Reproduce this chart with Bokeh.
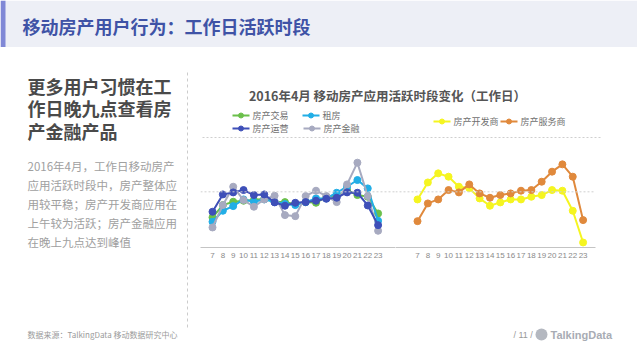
from bokeh.plotting import figure
from bokeh.layouts import column, row
from bokeh.models import Range1d, FixedTicker, Span
from bokeh.core.properties import value
from bokeh.embed import file_html
from bokeh.resources import INLINE

# ---------------- data ----------------
hours = list(range(7, 24))
hour_labels = [str(h) for h in hours]

left_names = ["房产交易", "租房", "房产运营", "房产金融"]
jiaoyi = [3.24, 4.57, 4.93, 5.04, 5.11, 5.25, 4.93, 4.89, 4.68, 4.89, 4.82, 5.47, 5.54, 6.19, 5.65, 5.47, 3.67]
zufang = [2.77, 3.96, 4.46, 5.18, 4.93, 5.18, 4.93, 4.68, 4.57, 4.89, 5.29, 5.29, 5.90, 6.55, 7.27, 6.37, 2.88]
yunying = [3.85, 5.72, 5.94, 6.19, 5.65, 5.72, 4.86, 4.50, 4.82, 4.89, 5.04, 5.25, 5.36, 5.94, 5.90, 4.53, 2.41]
jinrong = [2.16, 4.57, 6.55, 5.11, 4.39, 5.18, 5.58, 3.49, 3.38, 5.54, 6.12, 5.54, 4.89, 6.80, 9.14, 5.54, 1.80]

right_names = ["房产开发商", "房产服务商"]
kaifashang = [5.18, 7.01, 7.99, 7.63, 6.55, 6.40, 5.29, 4.50, 4.86, 5.18, 5.18, 5.47, 5.65, 6.19, 6.12, 3.96, 0.54]
fuwushang = [2.84, 4.75, 5.18, 6.19, 5.94, 6.80, 5.83, 5.36, 5.65, 5.83, 6.12, 6.19, 7.09, 8.17, 8.96, 7.63, 2.95]

ref_level = 6

C_GREEN = "#6bc04b"
C_CYAN = "#22aee6"
C_BLUE = "#3e4fb8"
C_GRAY = "#a7aac0"
C_YELLOW = "#f5f520"
C_ORANGE = "#e0893c"

page_title = "移动房产用户行为：工作日活跃时段"
heading = ["更多用户习惯在工", "作日晚九点查看房", "产金融产品"]
body = ["2016年4月，工作日移动房产", "应用活跃时段中，房产整体应", "用较平稳；房产开发商应用在",
        "上午较为活跃；房产金融应用", "在晚上九点达到峰值"]
chart_title = "2016年4月 移动房产应用活跃时段变化（工作日）"
source = "数据来源：TalkingData 移动数据研究中心"
page_no = "/ 11 /"
brand = "TalkingData"

CJK = "Noto Sans CJK SC"


def deco(w, h, ox, oy):
    """Decoration panel whose ranges are page pixel coordinates."""
    f = figure(width=w, height=h, x_range=Range1d(ox, ox + w), y_range=Range1d(oy + h, oy),
               toolbar_location=None, output_backend="svg", title=None,
               x_axis_location=None, y_axis_location=None,
               min_border=0, outline_line_color=None)
    f.grid.visible = False
    f.background_fill_color = "white"
    f.border_fill_color = "white"
    return f


def txt(f, x, y, s, size, color, bold=False, align="left", font=CJK):
    f.text(x=[x], y=[y], text=[s], text_font=value(font), text_font_size=size,
           text_font_style="bold" if bold else "normal", text_color=color,
           text_baseline="middle", text_align=align)


def legend_item(f, x, y, color, label):
    f.segment(x0=[x], y0=[y], x1=[x + 17], y1=[y], line_color=color, line_width=2)
    f.scatter(x=[x + 8.5], y=[y], size=5, fill_color=color, line_color=color)
    txt(f, x + 20, y, label, "9px", "#707070")


# ---------------- header ----------------
H = deco(637, 47, 0, 0)
H.quad(left=[0], right=[637], top=[0], bottom=[47], fill_color="#edeff6", line_color=None)
H.quad(left=[0], right=[5], top=[0], bottom=[47], fill_color="#8088d6", line_color=None)
txt(H, 22, 25, page_title, "18px", "#3f53a6", bold=True)

# ---------------- left text column ----------------
LF = deco(200, 310, 0, 47)
for i, line in enumerate(heading):
    txt(LF, 27, 85 + i * 22.5, line, "18px", "#4a4a4a", bold=True)
for i, line in enumerate(body):
    txt(LF, 27, 165 + i * 19, line, "11.5px", "#a0a0a0")
LF.segment(x0=[187], y0=[72], x1=[187], y1=[328], line_color="#cccccc", line_width=1, line_dash="3 3")
txt(LF, 27, 334, source, "8px", "#9a9a9a")

# ---------------- chart title + legend ----------------
TR = deco(437, 98, 200, 47)
txt(TR, 387, 95, chart_title, "12.5px", "#555555", bold=True, align="center")
legend_item(TR, 232, 115, C_GREEN, left_names[0])
legend_item(TR, 302, 115, C_CYAN, left_names[1])
legend_item(TR, 232, 128, C_BLUE, left_names[2])
legend_item(TR, 303, 128, C_GRAY, left_names[3])
legend_item(TR, 433, 121, C_YELLOW, right_names[0])
legend_item(TR, 500, 121, C_ORANGE, right_names[1])
TR.segment(x0=[202], y0=[137], x1=[600], y1=[137], line_color="#cfcfcf", line_width=1, line_dash="2 2")

# ---------------- charts ----------------
PX = 10.35


def chart(w, lead, right_border, series):
    start = hours[0] - lead / PX
    frame_w = w - right_border
    p = figure(width=w, height=125, x_range=Range1d(start, start + frame_w / PX),
               y_range=Range1d(0, 102 / 9.28), toolbar_location=None, output_backend="svg",
               title=None, y_axis_location=None, x_axis_location="below",
               min_border_left=0, min_border_right=right_border, min_border_top=0,
               min_border_bottom=23, outline_line_color=None)
    p.grid.visible = False
    p.background_fill_color = "white"
    p.border_fill_color = "white"
    ax = p.xaxis[0]
    ax.ticker = FixedTicker(ticks=hours)
    ax.major_label_overrides = {h: s for h, s in zip(hours, hour_labels)}
    ax.axis_line_color = "#c4c4c4"
    ax.major_tick_line_color = None
    ax.minor_tick_line_color = None
    ax.major_tick_out = 0
    ax.major_tick_in = 0
    ax.minor_tick_out = 0
    ax.major_label_standoff = 5
    ax.major_label_text_font = "Liberation Sans"
    ax.major_label_text_font_size = "8px"
    ax.major_label_text_color = "#8a8a8a"
    p.add_layout(Span(location=ref_level, dimension="width", line_color="#cfcfcf",
                      line_width=1, line_dash="2 2"))
    for vals, color in series:
        p.line(hours, vals, line_color=color, line_width=2)
        p.scatter(hours, vals, size=7, fill_color=color, line_color=color)
    return p


A = chart(195, 12, 0, [(jiaoyi, C_GREEN), (zufang, C_CYAN), (jinrong, C_GRAY), (yunying, C_BLUE)])
B = chart(242, 22, 42, [(kaifashang, C_YELLOW), (fuwushang, C_ORANGE)])

# ---------------- footer right ----------------
FR = deco(437, 87, 200, 270)
txt(FR, 513, 334, page_no, "9px", "#9a9a9a", font="Liberation Sans")
FR.scatter(x=[541], y=[334], size=12, fill_color="#b4b8c0", line_color=None)
txt(FR, 550, 334, brand, "11px", "#a8acb4", bold=True, font="Liberation Sans")

right_col = column(TR, row(A, B, spacing=0), FR, spacing=0)
page = column(H, row(LF, right_col, spacing=0), spacing=0)

open("out.html", "w").write(file_html(page, INLINE))
